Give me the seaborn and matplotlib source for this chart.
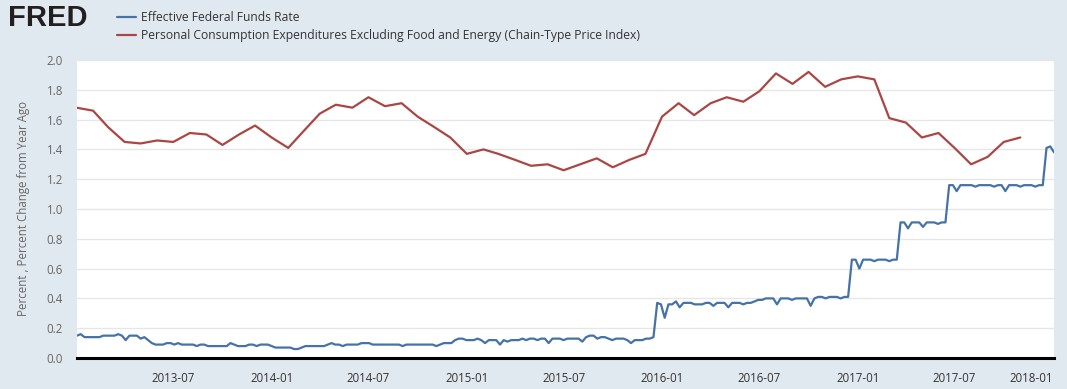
import numpy as np
import pandas as pd
import matplotlib
matplotlib.use("Agg")
import matplotlib.pyplot as plt
import matplotlib.dates as mdates
import seaborn as sns

# --- weekly effective federal funds rate (weeks ending Wednesday) ---
FF_START = "2013-01-02"
FF_2013 = [0.15, 0.16, 0.14, 0.14, 0.14, 0.14, 0.14, 0.15, 0.15, 0.15,
           0.15, 0.16, 0.15, 0.12, 0.15, 0.15, 0.15, 0.13, 0.14, 0.12,
           0.10, 0.09, 0.09, 0.09, 0.10, 0.10, 0.09, 0.10, 0.09, 0.09,
           0.09, 0.09, 0.08, 0.09, 0.09, 0.08, 0.08, 0.08, 0.08, 0.08,
           0.08, 0.10, 0.09, 0.08, 0.08, 0.08, 0.09, 0.09, 0.08, 0.09,
           0.09, 0.09]
FF_2014 = [0.08, 0.07, 0.07, 0.07, 0.07, 0.07, 0.06, 0.06, 0.07, 0.08,
           0.08, 0.08, 0.08, 0.08, 0.08, 0.09, 0.10, 0.09, 0.09, 0.08,
           0.09, 0.09, 0.09, 0.09, 0.10, 0.10, 0.10, 0.09, 0.09, 0.09,
           0.09, 0.09, 0.09, 0.09, 0.09, 0.08, 0.09, 0.09, 0.09, 0.09,
           0.09, 0.09, 0.09, 0.09, 0.08, 0.09, 0.10, 0.10, 0.10, 0.12,
           0.13, 0.13, 0.12]
FF_2015 = [0.12, 0.12, 0.13, 0.12, 0.10, 0.12, 0.12, 0.12, 0.09, 0.12,
           0.11, 0.12, 0.12, 0.12, 0.13, 0.12, 0.13, 0.13, 0.12, 0.13,
           0.13, 0.10, 0.13, 0.13, 0.13, 0.12, 0.13, 0.13, 0.13, 0.13,
           0.11, 0.14, 0.15, 0.15, 0.13, 0.14, 0.14, 0.13, 0.12, 0.13,
           0.13, 0.13, 0.12, 0.10, 0.12, 0.12, 0.12, 0.13, 0.13, 0.14,
           0.37, 0.36]
FF_2016 = [0.27, 0.36, 0.36, 0.38, 0.34, 0.37, 0.37, 0.37, 0.36, 0.36,
           0.36, 0.37, 0.37, 0.35, 0.37, 0.37, 0.37, 0.34, 0.37, 0.37,
           0.37, 0.36, 0.37, 0.37, 0.38, 0.39, 0.39, 0.40, 0.40, 0.40,
           0.36, 0.40, 0.40, 0.40, 0.39, 0.40, 0.40, 0.40, 0.40, 0.35,
           0.40, 0.41, 0.41, 0.40, 0.41, 0.41, 0.41, 0.40, 0.41, 0.41,
           0.66, 0.66]
FF_2017 = [0.60, 0.66, 0.66, 0.66, 0.65, 0.66, 0.66, 0.66, 0.65, 0.66,
           0.66, 0.91, 0.91, 0.87, 0.91, 0.91, 0.91, 0.88, 0.91, 0.91,
           0.91, 0.90, 0.91, 0.91, 1.16, 1.16, 1.12, 1.16, 1.16, 1.16,
           1.16, 1.15, 1.16, 1.16, 1.16, 1.16, 1.15, 1.16, 1.16, 1.12,
           1.16, 1.16, 1.16, 1.15, 1.16, 1.16, 1.16, 1.15, 1.16, 1.16,
           1.41, 1.42]
FF_2018 = [1.38]

# --- monthly core PCE, percent change from year ago ---
PCE_START = "2013-01-01"
PCE_2013 = [1.68, 1.66, 1.55, 1.45, 1.44, 1.46, 1.45, 1.51, 1.50, 1.43, 1.50, 1.56]
PCE_2014 = [1.48, 1.41, 1.52, 1.64, 1.70, 1.68, 1.75, 1.69, 1.71, 1.62, 1.55, 1.48]
PCE_2015 = [1.37, 1.40, 1.37, 1.33, 1.29, 1.30, 1.26, 1.30, 1.34, 1.28, 1.33, 1.37]
PCE_2016 = [1.62, 1.71, 1.63, 1.71, 1.75, 1.72, 1.79, 1.91, 1.84, 1.92, 1.82, 1.87]
PCE_2017 = [1.89, 1.87, 1.61, 1.58, 1.48, 1.51, 1.41, 1.30, 1.35, 1.45, 1.48]

FF_LABEL = "Effective Federal Funds Rate"
PCE_LABEL = "Personal Consumption Expenditures Excluding Food and Energy (Chain-Type Price Index)"
Y_LABEL = "Percent , Percent Change from Year Ago"
Y_TICKS = [0.0, 0.2, 0.4, 0.6, 0.8, 1.0, 1.2, 1.4, 1.6, 1.8, 2.0]

BG = "#e1e9f0"
BLUE = "#4572a7"
RED = "#aa4643"

ff_vals = FF_2013 + FF_2014 + FF_2015 + FF_2016 + FF_2017 + FF_2018
pce_vals = PCE_2013 + PCE_2014 + PCE_2015 + PCE_2016 + PCE_2017

ff = pd.DataFrame({
    "date": pd.date_range(FF_START, periods=len(ff_vals), freq="W-WED"),
    "value": ff_vals,
})
pce = pd.DataFrame({
    "date": pd.date_range(PCE_START, periods=len(pce_vals), freq="MS"),
    "value": pce_vals,
})

sns.set_style("white")
plt.rcParams["font.family"] = ["Open Sans", "DejaVu Sans"]

W, H = 1067, 389
fig = plt.figure(figsize=(W / 100, H / 100), dpi=100, facecolor=BG)
ax = fig.add_axes([77 / W, 31 / H, 977 / W, 298 / H])
ax.set_facecolor("white")

sns.lineplot(data=ff, x="date", y="value", color=BLUE, lw=1.6, ax=ax, label=FF_LABEL)
sns.lineplot(data=pce, x="date", y="value", color=RED, lw=1.6, ax=ax, label=PCE_LABEL)

ax.set_ylim(0, 2.0)
ax.set_xlim(ff["date"].iloc[0], ff["date"].iloc[-1])
ax.set_yticks(Y_TICKS)
ax.yaxis.set_major_formatter(matplotlib.ticker.FormatStrFormatter("%.1f"))
ax.xaxis.set_major_locator(mdates.MonthLocator(bymonth=[1, 7]))
ax.xaxis.set_major_formatter(mdates.DateFormatter("%Y-%m"))

ax.grid(False)
ax.yaxis.grid(True, color="#e6e6e6", lw=1)
for s in ["top", "right", "left"]:
    ax.spines[s].set_visible(False)
ax.spines["bottom"].set_color("black")
ax.spines["bottom"].set_linewidth(2.2)

ax.tick_params(axis="x", length=10, width=1, color="#ccd6eb", direction="out",
               pad=0, labelsize=8.3, labelcolor="#333333")
ax.tick_params(axis="y", length=0, pad=10, labelsize=8.3, labelcolor="#666666")
labels = ax.get_xticklabels()
if labels:
    labels[-1].set_horizontalalignment("right")

ax.set_xlabel("")
ax.set_ylabel(Y_LABEL, fontsize=8.3, color="#666666")
ax.yaxis.set_label_coords(-47 / 977, 0.5)

leg = ax.legend(loc="upper left", bbox_to_anchor=(117 / W, 1 - 11 / H),
                bbox_transform=fig.transFigure, frameon=False, fontsize=8.7,
                handlelength=1.6, handletextpad=0.35, labelspacing=0.45,
                borderpad=0, borderaxespad=0)
for t in leg.get_texts():
    t.set_color("#333333")

fig.text(8 / W, 1 - 18 / H, "FRED", fontsize=21, fontweight="bold",
         family="Liberation Sans", color="#231f20", va="center", ha="left")

fig.savefig("out.png", dpi=100, facecolor=BG)
